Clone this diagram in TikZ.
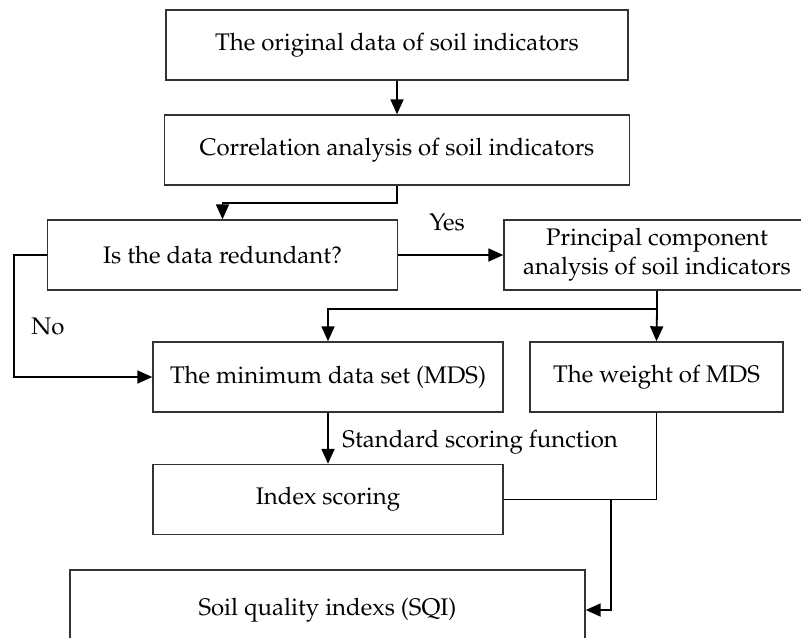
\documentclass[tikz,border=0pt]{standalone}
\usepackage[T1]{fontenc}
\usepackage{mathpazo}
\usetikzlibrary{arrows.meta}

\tikzset{
  box/.style={draw=black!80, line width=0.7pt, rectangle, align=center, minimum height=35pt, inner sep=0pt},
  arr/.style={line width=0.9pt, -{Triangle[length=7.5pt,width=6.5pt]}},
  line/.style={line width=0.9pt}
}

\begin{document}
\begin{tikzpicture}[x=0.5pt, y=-0.5pt, font=\fontsize{12}{14.5}\selectfont]
    \useasboundingbox (0,0) rectangle (801,637);
    \clip (0,0) rectangle (801,637);

    \node[box, minimum width=231pt] (orig) at (397,45) {The original data of soil indicators};
    \node[box, minimum width=232.5pt] (corr) at (397,150) {Correlation analysis of soil indicators};
    \node[box, minimum width=175pt] (redund) at (222.5,255) {Is the data redundant?};
    \node[box, minimum width=153pt] (pca) at (657,255) {Principal component\\analysis of soil indicators};
    \node[box, minimum width=175pt] (mds) at (328,377) {The minimum data set (MDS)};
    \node[box, minimum width=126.5pt] (weight) at (656.5,377) {The weight of MDS};
    \node[box, minimum width=175pt] (index) at (328,499.5) {Index scoring};
    \node[box, minimum width=257.5pt, minimum height=40pt] (sqi) at (327.5,610) {Soil quality indexs (SQI)};

    \coordinate (split) at (657,309); % PCA branch
    \coordinate (merge) at (611,499.5); % join to SQI

    \draw[arr] (orig) -- (corr);
    \draw[arr] (corr.south) -- ++(0,17) -| (redund.north);
    \draw[arr] (redund.east) -- (pca.west);
    \draw[arr] (redund.west) -- ++(-33,0) |- (mds.west);
    \draw[line] (pca.south) -- (split);
    \draw[arr] (split) -- (weight.north);
    \draw[arr] (split) -| (mds.north);
    \draw[arr] (mds) -- (index);
    \draw[line] (weight.south) |- (index.east);
    \draw[arr] (merge) |- (sqi.east);

    \node (yes) at (447,222) {Yes}; % Yes branch
    \node (no) at (48,326) {No}; % No branch
    \node[anchor=west, inner sep=0pt] (std) at (342,442) {Standard scoring function};
\end{tikzpicture}
\end{document}
